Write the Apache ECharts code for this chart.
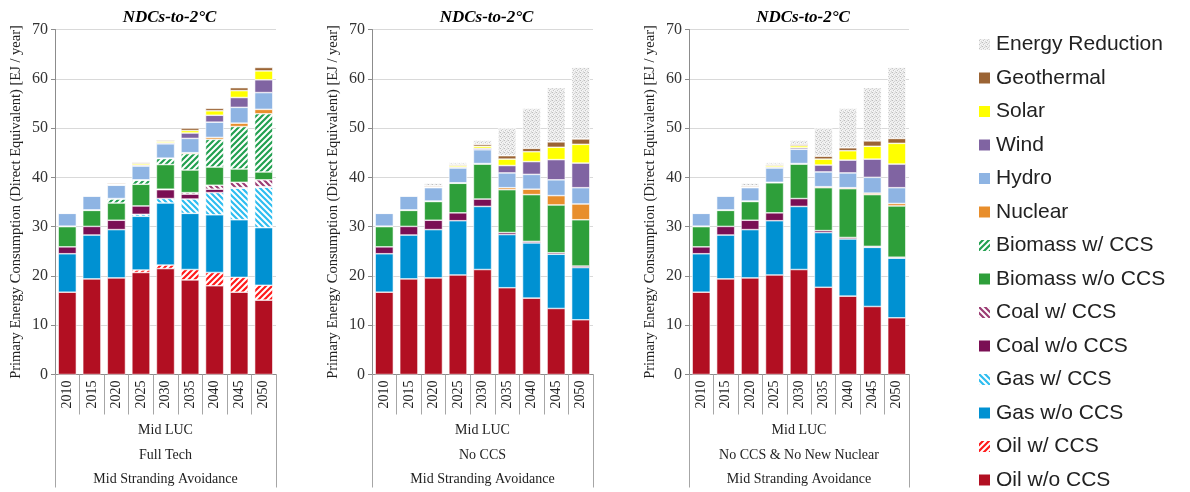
<!DOCTYPE html>
<html>
<head>
<meta charset="utf-8">
<title>Primary Energy Consumption – NDCs-to-2°C</title>
<script src="https://cdn.jsdelivr.net/npm/echarts@6/dist/echarts.min.js"></script>
<style>
  html, body { margin: 0; padding: 0; background: #fff; }
  #chart { width: 1190px; height: 492px; }
</style>
</head>
<body>
<div id="chart"></div>
<script>
// ---- Data (EJ / year) ----
const years = ['2010', '2015', '2020', '2025', '2030', '2035', '2040', '2045', '2050'];
const yTicks = [0, 10, 20, 30, 40, 50, 60, 70];

const panelTitles = ['NDCs-to-2°C', 'NDCs-to-2°C', 'NDCs-to-2°C'];
const panelLabels = [
  'Mid LUC\nFull Tech\nMid Stranding Avoidance',
  'Mid LUC\nNo CCS\nMid Stranding Avoidance',
  'Mid LUC\nNo CCS & No New Nuclear\nMid Stranding Avoidance'
];

// Full Tech
const ftOil       = [16.7, 19.4, 19.6, 20.7, 21.5, 19.2, 18.0, 16.7, 15.1];
const ftOilCCS    = [0, 0, 0, 0.5, 0.7, 2.1, 2.7, 3.0, 3.0];
const ftGas       = [7.8, 8.9, 9.8, 10.9, 12.6, 11.4, 11.7, 11.7, 11.7];
const ftGasCCS    = [0, 0, 0, 0.4, 0.9, 2.9, 4.5, 6.4, 8.2];
const ftCoal      = [1.4, 1.75, 1.9, 1.7, 1.8, 1.0, 0.7, 0.1, 0.1];
const ftCoalCCS   = [0, 0, 0, 0, 0.1, 0.3, 0.8, 1.1, 1.4];
const ftBio       = [4.1, 3.25, 3.5, 4.4, 5.0, 4.6, 3.7, 2.7, 1.6];
const ftBioCCS    = [0, 0, 0.8, 0.8, 1.2, 3.3, 5.6, 8.6, 11.8];
const ftNuclear   = [0.1, 0.1, 0.1, 0.1, 0.1, 0.2, 0.4, 0.7, 0.9];
const ftHydro     = [2.6, 2.8, 2.7, 2.8, 2.9, 2.9, 3.1, 3.2, 3.4];
const ftWind      = [0.05, 0.05, 0.1, 0.2, 0.2, 1.1, 1.4, 2.0, 2.6];
const ftSolar     = [0, 0, 0.1, 0.3, 0.3, 0.5, 0.9, 1.4, 1.8];
const ftGeo       = [0.1, 0.05, 0.2, 0.2, 0.2, 0.5, 0.5, 0.6, 0.7];

// No CCS
const ncOil       = [16.7, 19.4, 19.6, 20.2, 21.3, 17.6, 15.5, 13.4, 11.1];
const ncGas       = [7.8, 8.9, 9.8, 11.0, 12.8, 10.8, 11.2, 11.0, 10.6];
const ncCoal      = [1.4, 1.75, 1.9, 1.6, 1.5, 0.4, 0.3, 0.3, 0.3];
const ncBio       = [4.1, 3.25, 3.8, 6.0, 7.1, 8.7, 9.5, 9.7, 9.4];
const ncNuclear   = [0.1, 0.1, 0.1, 0.1, 0.1, 0.4, 1.1, 1.9, 3.2];
const ncHydro     = [2.6, 2.8, 2.7, 3.0, 2.8, 3.0, 3.0, 3.2, 3.3];
const ncWind      = [0.05, 0.05, 0.1, 0.2, 0.3, 1.5, 2.6, 4.1, 5.0];
const ncSolar     = [0, 0, 0.1, 0.3, 0.4, 1.3, 2.0, 2.5, 3.8];
const ncGeo       = [0.1, 0.05, 0.2, 0.2, 0.4, 0.7, 0.7, 1.1, 1.1];
const ncReduction = [0, 0, 0.5, 0.4, 0.8, 5.6, 8.1, 11.0, 14.5];

// No CCS & No New Nuclear
const nnOil       = [16.7, 19.4, 19.6, 20.2, 21.3, 17.7, 15.9, 13.8, 11.5];
const nnGas       = [7.8, 8.9, 9.8, 11.0, 12.8, 11.1, 11.6, 12.0, 12.1];
const nnCoal      = [1.4, 1.75, 1.9, 1.6, 1.6, 0.4, 0.3, 0.2, 0.2];
const nnBio       = [4.1, 3.25, 3.8, 6.1, 7.0, 8.7, 9.9, 10.5, 10.4];
const nnNuclear   = [0.1, 0.1, 0.1, 0.1, 0.1, 0.2, 0.2, 0.3, 0.5];
const nnHydro     = [2.6, 2.8, 2.7, 2.9, 2.9, 3.0, 3.0, 3.2, 3.2];
const nnWind      = [0.05, 0.05, 0.1, 0.2, 0.3, 1.4, 2.6, 3.7, 4.8];
const nnSolar     = [0, 0, 0.1, 0.3, 0.4, 1.2, 1.9, 2.6, 4.2];
const nnGeo       = [0.1, 0.05, 0.2, 0.2, 0.3, 0.6, 0.6, 1.1, 1.0];
const nnReduction = [0, 0, 0.5, 0.4, 0.8, 5.7, 8.0, 10.8, 14.4];

// ---- Fill patterns ----
function hatch(color, dir) {
  const s = 6;
  const c = document.createElement('canvas');
  c.width = s; c.height = s;
  const g = c.getContext('2d');
  g.fillStyle = '#ffffff';
  g.fillRect(0, 0, s, s);
  g.strokeStyle = color;
  g.lineWidth = 2.2;
  g.beginPath();
  if (dir === '/') {
    g.moveTo(-1, s + 1); g.lineTo(s + 1, -1);
    g.moveTo(-1, 1); g.lineTo(1, -1);
    g.moveTo(s - 1, s + 1); g.lineTo(s + 1, s - 1);
  } else {
    g.moveTo(-1, -1); g.lineTo(s + 1, s + 1);
    g.moveTo(s - 1, -1); g.lineTo(s + 1, 1);
    g.moveTo(-1, s - 1); g.lineTo(1, s + 1);
  }
  g.stroke();
  return { image: c, repeat: 'repeat' };
}

// light grey speckle used for the demand-reduction segments
function stipple() {
  const c = document.createElement('canvas');
  c.width = 4; c.height = 4;
  const g = c.getContext('2d');
  g.fillStyle = '#eeeeee';
  g.fillRect(0, 0, 4, 4);
  const dots = [[0, 0, '#bdbdbd'], [2, 1, '#d2d2d2'], [1, 2, '#c6c6c6'], [3, 3, '#d6d6d6'],
                [3, 0, '#dedede'], [0, 3, '#f8f8f8'], [2, 2, '#f8f8f8']];
  dots.forEach(([x, y, col]) => { g.fillStyle = col; g.fillRect(x, y, 1, 1); });
  return { image: c, repeat: 'repeat' };
}

const styles = {
  'Oil w/o CCS':      '#B20F22',
  'Oil w/ CCS':       hatch('#FF1A1A', '/'),
  'Gas w/o CCS':      '#0091D2',
  'Gas w/ CCS':       hatch('#2EBDF0', '\\'),
  'Coal w/o CCS':     '#7A0F54',
  'Coal w/ CCS':      hatch('#9B3C73', '\\'),
  'Biomass w/o CCS':  '#2E9F3A',
  'Biomass w/ CCS':   hatch('#22A050', '/'),
  'Nuclear':          '#E88E2C',
  'Hydro':            '#8EB4E3',
  'Wind':             '#8064A2',
  'Solar':            '#FFFF00',
  'Geothermal':       '#9B6434',
  'Energy Reduction': stipple()
};

const panels = [
  [['Oil w/o CCS', ftOil], ['Oil w/ CCS', ftOilCCS], ['Gas w/o CCS', ftGas], ['Gas w/ CCS', ftGasCCS],
   ['Coal w/o CCS', ftCoal], ['Coal w/ CCS', ftCoalCCS], ['Biomass w/o CCS', ftBio], ['Biomass w/ CCS', ftBioCCS],
   ['Nuclear', ftNuclear], ['Hydro', ftHydro], ['Wind', ftWind], ['Solar', ftSolar], ['Geothermal', ftGeo]],
  [['Oil w/o CCS', ncOil], ['Gas w/o CCS', ncGas], ['Coal w/o CCS', ncCoal], ['Biomass w/o CCS', ncBio],
   ['Nuclear', ncNuclear], ['Hydro', ncHydro], ['Wind', ncWind], ['Solar', ncSolar], ['Geothermal', ncGeo],
   ['Energy Reduction', ncReduction]],
  [['Oil w/o CCS', nnOil], ['Gas w/o CCS', nnGas], ['Coal w/o CCS', nnCoal], ['Biomass w/o CCS', nnBio],
   ['Nuclear', nnNuclear], ['Hydro', nnHydro], ['Wind', nnWind], ['Solar', nnSolar], ['Geothermal', nnGeo],
   ['Energy Reduction', nnReduction]]
];

const legendOrder = ['Energy Reduction', 'Geothermal', 'Solar', 'Wind', 'Hydro', 'Nuclear',
  'Biomass w/ CCS', 'Biomass w/o CCS', 'Coal w/ CCS', 'Coal w/o CCS',
  'Gas w/ CCS', 'Gas w/o CCS', 'Oil w/ CCS', 'Oil w/o CCS'];

// ---- Layout ----
const serif = "'Times New Roman', 'Liberation Serif', serif";
const gridBoxes = [{ left: 55, width: 221 }, { left: 372, width: 221 }, { left: 689, width: 220 }];

const grid = [], xAxis = [], yAxis = [], title = [], series = [];

gridBoxes.forEach((b, i) => {
  grid.push({ left: b.left, width: b.width, top: 29.5, bottom: 117, containLabel: false });
  title.push({
    text: panelTitles[i], left: b.left + b.width / 2 - 1, top: 4, textAlign: 'center',
    textStyle: { fontFamily: serif, fontSize: 17, fontWeight: 'bold', fontStyle: 'italic', color: '#000' }
  });
  // year axis
  xAxis.push({
    type: 'category', gridIndex: i, data: years,
    axisLine: { lineStyle: { color: '#8c8c8c', width: 1 } },
    axisTick: { show: true, interval: 0, length: 40, lineStyle: { color: '#a6a6a6' } },
    axisLabel: { rotate: 90, margin: 6, fontFamily: serif, fontSize: 14, color: '#222', interval: 0 }
  });
  // scenario description axis
  xAxis.push({
    type: 'category', gridIndex: i, data: [panelLabels[i]], position: 'bottom',
    axisLine: { show: false },
    axisTick: { show: true, length: 113, lineStyle: { color: '#a6a6a6' } },
    axisLabel: { margin: 44, fontFamily: serif, fontSize: 14, color: '#222', lineHeight: 24.5 }
  });
  yAxis.push({
    type: 'value', gridIndex: i, min: 0, max: 70, interval: 10,
    name: 'Primary Energy Consumption (Direct Equivalent) [EJ / year]',
    nameLocation: 'middle', nameRotate: 90, nameGap: 31,
    nameTextStyle: { fontFamily: serif, fontSize: 14.5, color: '#222' },
    axisLine: { show: true, lineStyle: { color: '#8c8c8c' } },
    axisTick: { show: true, length: 4, lineStyle: { color: '#8c8c8c' } },
    axisLabel: {
      margin: 7, fontFamily: serif, fontSize: 16, color: '#333',
      formatter: v => (yTicks.includes(v) ? String(v) : '')
    },
    splitLine: { lineStyle: { color: '#d9d9d9' } }
  });
  panels[i].forEach(([name, values]) => {
    series.push({
      type: 'bar', name, stack: 'p' + i,
      xAxisIndex: i * 2, yAxisIndex: i,
      barCategoryGap: '26%',
      data: values.map(v => (v === 0 ? '-' : v)),
      itemStyle: { color: styles[name], borderColor: '#ffffff', borderWidth: 0.6 },
      emphasis: { disabled: true },
      animation: false
    });
  });
});

const chart = echarts.init(document.getElementById('chart'), null, { renderer: 'canvas' });
chart.setOption({
  backgroundColor: '#ffffff',
  animation: false,
  title,
  grid, xAxis, yAxis, series,
  legend: {
    data: legendOrder, orient: 'vertical', left: 977, top: 34, height: 480, padding: 0,
    itemWidth: 13, itemHeight: 13, itemGap: 12.5, icon: 'rect',
    selectedMode: false,
    textStyle: { fontFamily: "Arial, 'Liberation Sans', sans-serif", fontSize: 21, color: '#222' }
  }
});
</script>
</body>
</html>
